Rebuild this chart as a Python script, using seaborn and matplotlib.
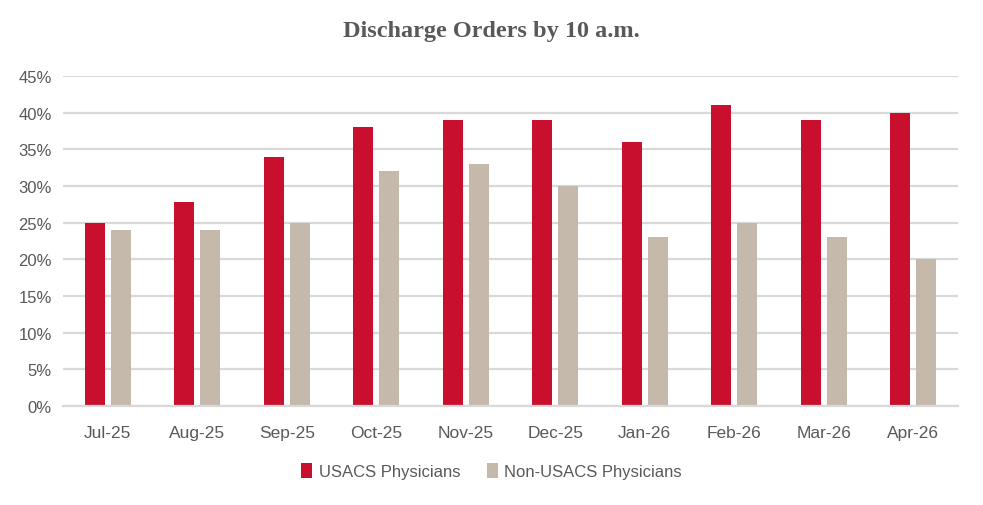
import matplotlib
matplotlib.use("Agg")
import matplotlib.pyplot as plt
import matplotlib.ticker as mticker
import seaborn as sns
import pandas as pd
from matplotlib.patches import Patch

months = ["Jul-25", "Aug-25", "Sep-25", "Oct-25", "Nov-25", "Dec-25", "Jan-26", "Feb-26", "Mar-26", "Apr-26"]
usacs = [25, 27.8, 34, 38, 39, 39, 36, 41, 39, 40]
non_usacs = [24, 24, 25, 32, 33, 30, 23, 25, 23, 20]
series_names = ["USACS Physicians", "Non-USACS Physicians"]
colors = ["#C8102E", "#C4B9AB"]

df = pd.DataFrame({
    "Month": months * 2,
    "Value": usacs + non_usacs,
    "Series": [series_names[0]] * len(months) + [series_names[1]] * len(months),
})

sns.set_theme(style="white")
plt.rcParams["font.family"] = ["Liberation Sans", "DejaVu Sans"]

fig = plt.figure(figsize=(9.83, 5.06), dpi=100)
ax = fig.add_axes([63 / 983, 1 - 407 / 506, (958 - 63) / 983, (407 - 77) / 506])

sns.barplot(data=df, x="Month", y="Value", hue="Series", order=months,
            hue_order=series_names, palette=colors, width=0.58, gap=0.23,
            saturation=1, ax=ax, legend=False, linewidth=0, edgecolor="none")

ax.set_ylim(0, 45)
ax.set_xlim(-0.5, len(months) - 0.5)
ax.yaxis.set_major_locator(mticker.MultipleLocator(5))
ax.yaxis.set_major_formatter(mticker.FuncFormatter(lambda v, p: f"{int(round(v))}%"))
ax.grid(axis="y", color="#D9D9D9", linewidth=1.6)
ax.set_axisbelow(True)
for s in ["top", "right", "left"]:
    ax.spines[s].set_visible(False)
ax.spines["bottom"].set_color("#D9D9D9")
ax.spines["bottom"].set_linewidth(1.6)

ax.set_xlabel("")
ax.set_ylabel("")
ax.tick_params(axis="x", which="major", length=0, pad=14, labelsize=12.5, labelcolor="#595959")
ax.tick_params(axis="y", length=0, pad=8, labelsize=12, labelcolor="#595959")
ax.set_xticks([i - 0.5 for i in range(len(months) + 1)], minor=True)
ax.tick_params(axis="x", which="minor", length=6, width=1.4, color="#D9D9D9")

fig.text(0.5, 1 - 32 / 506, "Discharge Orders by 10 a.m.", ha="center", va="center",
         fontsize=17.5, fontweight="bold", color="#595959", family=["Liberation Serif", "DejaVu Serif"])

handles = [Patch(facecolor=c, edgecolor="none") for c in colors]
fig.legend(handles, series_names, loc="center", bbox_to_anchor=(0.5, 1 - 472 / 506),
           ncol=2, frameon=False, labelcolor="#595959",
           handlelength=0.65, handleheight=1.0, handletextpad=0.4, columnspacing=1.6,
           prop={"family": ["Liberation Sans", "DejaVu Sans"], "size": 12})

fig.savefig("out.png", dpi=100)
